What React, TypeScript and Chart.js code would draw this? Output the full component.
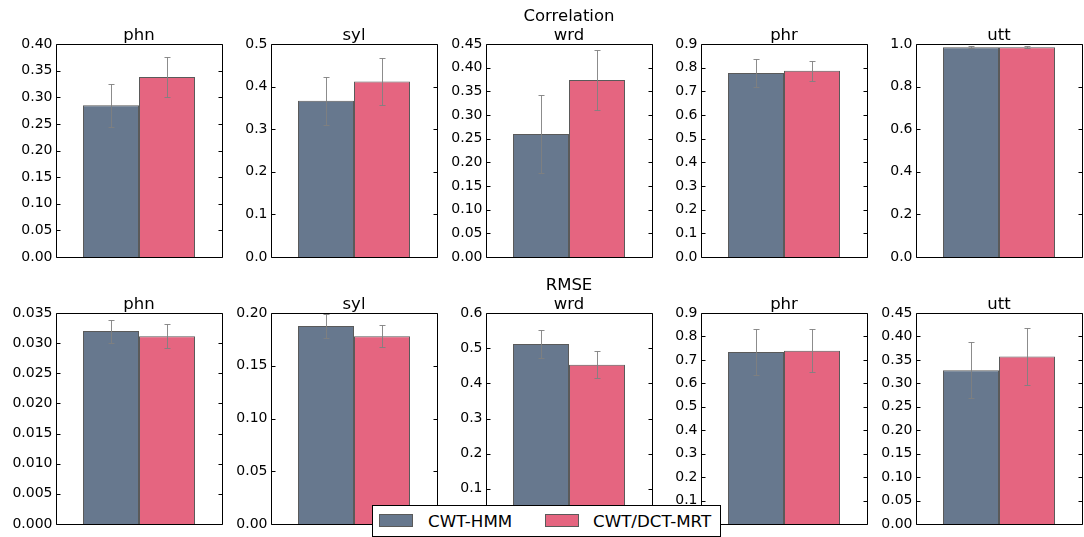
import React, { useEffect, useRef } from "react";
import { Chart, registerables } from "chart.js";

Chart.register(...registerables);

// Systems compared
const SERIES = ["CWT-HMM", "CWT/DCT-MRT"];
const COLORS = ["#67788E", "#E56580"];
const EDGE = "#5a5a5a";

// Prosodic units (one panel per unit)
const UNITS = ["phn", "syl", "wrd", "phr", "utt"];

// Correlation: means and standard deviations
const corrHmm = [0.285, 0.367, 0.26, 0.777, 0.985];
const corrHmmErr = [0.04, 0.056, 0.083, 0.06, 0.004];
const corrMrt = [0.338, 0.412, 0.374, 0.787, 0.985];
const corrMrtErr = [0.037, 0.055, 0.063, 0.042, 0.004];
const corrMax = [0.4, 0.5, 0.45, 0.9, 1.0];
const corrStep = [0.05, 0.1, 0.05, 0.1, 0.2];
const corrDecimals = [2, 1, 2, 1, 1];

// RMSE: means and standard deviations
const rmseHmm = [0.032, 0.1877, 0.512, 0.734, 0.328];
const rmseHmmErr = [0.0019, 0.0113, 0.041, 0.097, 0.06];
const rmseMrt = [0.03115, 0.178, 0.453, 0.739, 0.357];
const rmseMrtErr = [0.002, 0.0107, 0.038, 0.092, 0.06];
const rmseMax = [0.035, 0.2, 0.6, 0.9, 0.45];
const rmseStep = [0.005, 0.05, 0.1, 0.1, 0.05];
const rmseDecimals = [3, 2, 1, 1, 2];

const ROW_TITLES = ["Correlation", "RMSE"];

// Panel geometry (plot-area frames, in page pixels)
const FRAME_LEFTS = [56, 271, 486, 701, 916];
const FRAME_W = 166;
const BAR_GROUP_W = 112;
const ROW_TOPS = [44, 313];
const ROW_BOTTOMS = [257, 524];
const AXIS_W = 56;
const PAD_TOP = 44;
const PAD_BOTTOM = 12;
const PAD_RIGHT = 2;

const FONT = '"DejaVu Sans", "Bitstream Vera Sans", sans-serif';

const panelDecor = {
  id: "panelDecor",
  afterDatasetsDraw(chart: any, _args: any, opts: any) {
    const ctx = chart.ctx as CanvasRenderingContext2D;
    const { left, right, top, bottom } = chart.chartArea;
    const y = chart.scales.y;
    ctx.save();

    // error bars with caps
    ctx.strokeStyle = "rgba(128,128,128,0.9)";
    ctx.lineWidth = 1;
    chart.data.datasets.forEach((ds: any, i: number) => {
      const bar = chart.getDatasetMeta(i).data[0];
      const v = ds.data[0] as number;
      const e = opts.errors[i] as number;
      const x = Math.round(bar.x) + 0.5;
      const y1 = Math.round(y.getPixelForValue(v + e)) + 0.5;
      const y2 = Math.round(y.getPixelForValue(v - e)) + 0.5;
      ctx.beginPath();
      ctx.moveTo(x, y1);
      ctx.lineTo(x, y2);
      ctx.moveTo(x - 3, y1);
      ctx.lineTo(x + 3, y1);
      ctx.moveTo(x - 3, y2);
      ctx.lineTo(x + 3, y2);
      ctx.stroke();
    });

    // axes frame
    const l = Math.round(left) + 0.5;
    const r = Math.round(right) + 0.5;
    const t = Math.round(top) + 0.5;
    const b = Math.round(bottom) + 0.5;
    ctx.strokeStyle = "#000";
    ctx.beginPath();
    ctx.rect(l, t, r - l, b - t);
    ctx.stroke();

    // inward tick marks on both sides
    ctx.beginPath();
    y.ticks.forEach((_t: any, k: number) => {
      const py = Math.round(y.getPixelForTick(k)) + 0.5;
      ctx.moveTo(l, py);
      ctx.lineTo(l + 4, py);
      ctx.moveTo(r, py);
      ctx.lineTo(r - 4, py);
    });
    ctx.stroke();

    // panel title (may be several lines)
    const lines: string[] = opts.title;
    ctx.fillStyle = "#000";
    ctx.font = `16.5px ${FONT}`;
    ctx.textAlign = "center";
    ctx.textBaseline = "alphabetic";
    const cx = (left + right) / 2;
    lines.forEach((txt, j) => {
      const base = top - 4.5 - (lines.length - 1 - j) * 18.5;
      ctx.fillText(txt, cx, base);
    });
    ctx.restore();
  },
};

type PanelProps = {
  row: number;
  col: number;
  values: number[];
  errors: number[];
  max: number;
  step: number;
  decimals: number;
  title: string[];
};

function Panel({ row, col, values, errors, max, step, decimals, title }: PanelProps) {
  const ref = useRef<HTMLCanvasElement | null>(null);
  const width = AXIS_W + FRAME_W + PAD_RIGHT;
  const height = PAD_TOP + (ROW_BOTTOMS[row] - ROW_TOPS[row]) + PAD_BOTTOM;
  const left = FRAME_LEFTS[col] - AXIS_W;
  const top = ROW_TOPS[row] - PAD_TOP;

  useEffect(() => {
    if (!ref.current) return;
    const chart = new Chart(ref.current, {
      type: "bar",
      data: {
        labels: [""],
        datasets: SERIES.map((name, i) => ({
          label: name,
          data: [values[i]],
          backgroundColor: COLORS[i],
          borderColor: EDGE,
          borderWidth: 1,
          categoryPercentage: BAR_GROUP_W / FRAME_W,
          barPercentage: 1,
        })),
      },
      options: {
        responsive: false,
        animation: false,
        events: [],
        layout: { padding: { left: 0, right: PAD_RIGHT, top: PAD_TOP, bottom: PAD_BOTTOM } },
        plugins: {
          legend: { display: false },
          tooltip: { enabled: false },
          title: { display: false },
          // @ts-ignore
          panelDecor: { errors, title },
        },
        scales: {
          x: { display: false },
          y: {
            min: 0,
            max,
            grid: { display: false, drawTicks: false, tickLength: 0 },
            border: { display: false },
            ticks: {
              stepSize: step,
              autoSkip: false,
              padding: 3.5,
              color: "#000",
              font: { family: FONT, size: 14 },
              callback: (v: any) => Number(v).toFixed(decimals),
            },
            afterFit: (scale: any) => {
              scale.width = AXIS_W;
            },
          },
        },
      },
      plugins: [panelDecor],
    } as any);
    return () => chart.destroy();
  }, []);

  return (
    <canvas
      ref={ref}
      width={width}
      height={height}
      style={{ position: "absolute", left, top, width, height }}
    />
  );
}

function Legend() {
  const text = {
    position: "absolute" as const,
    top: 4,
    font: `16.7px ${FONT}`,
    color: "#000",
    lineHeight: "22px",
    whiteSpace: "nowrap" as const,
  };
  const swatch = {
    position: "absolute" as const,
    top: 8,
    width: 34,
    height: 13,
    boxSizing: "border-box" as const,
    border: `1px solid ${EDGE}`,
  };
  return (
    <div
      style={{
        position: "absolute",
        left: 372,
        top: 505,
        width: 349,
        height: 32,
        boxSizing: "border-box",
        border: "1px solid #000",
        background: "#fff",
      }}
    >
      <div style={{ ...swatch, left: 6, background: COLORS[0] }} />
      <div style={{ ...text, left: 55 }}>{SERIES[0]}</div>
      <div style={{ ...swatch, left: 172, background: COLORS[1] }} />
      <div style={{ ...text, left: 220 }}>{SERIES[1]}</div>
    </div>
  );
}

export default function App() {
  const rows = [
    { vals: [corrHmm, corrMrt], errs: [corrHmmErr, corrMrtErr], max: corrMax, step: corrStep, dec: corrDecimals },
    { vals: [rmseHmm, rmseMrt], errs: [rmseHmmErr, rmseMrtErr], max: rmseMax, step: rmseStep, dec: rmseDecimals },
  ];
  return (
    <div
      style={{
        position: "fixed",
        left: 0,
        top: 0,
        width: 1084,
        height: 537,
        background: "#fff",
        overflow: "hidden",
      }}
    >
      {rows.map((r, ri) =>
        UNITS.map((u, ci) => (
          <Panel
            key={`${ri}-${ci}`}
            row={ri}
            col={ci}
            values={[r.vals[0][ci], r.vals[1][ci]]}
            errors={[r.errs[0][ci], r.errs[1][ci]]}
            max={r.max[ci]}
            step={r.step[ci]}
            decimals={r.dec[ci]}
            title={ci === 2 ? [ROW_TITLES[ri], u] : [u]}
          />
        ))
      )}
      <Legend />
    </div>
  );
}
